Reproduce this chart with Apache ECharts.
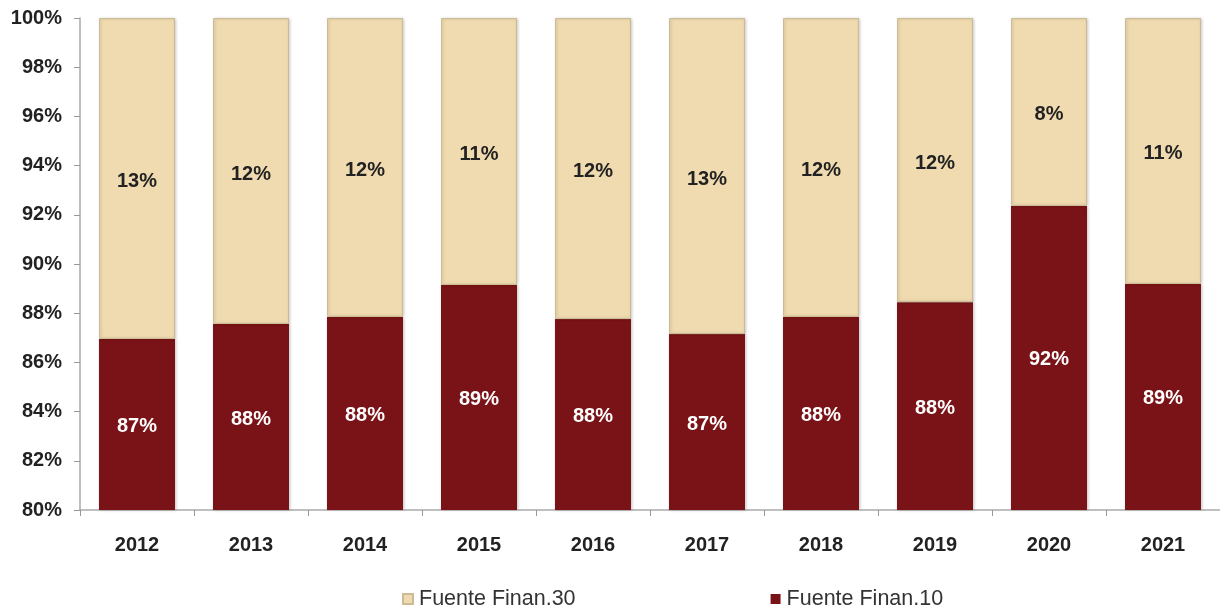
<!DOCTYPE html>
<html>
<head>
<meta charset="utf-8">
<script src="https://cdn.jsdelivr.net/npm/echarts@6/dist/echarts.min.js"></script>
<style>
  html, body { margin: 0; padding: 0; background: #fff; }
  #chart { width: 1220px; height: 610px; }
</style>
</head>
<body>
<div id="chart"></div>
<script>
const years = ['2012','2013','2014','2015','2016','2017','2018','2019','2020','2021']
const fuente10 = [86.95, 87.56, 87.85, 89.15, 87.76, 87.15, 87.85, 88.45, 92.36, 89.19]
const fuente30 = [13.05, 12.44, 12.15, 10.85, 12.24, 12.85, 12.15, 11.55, 7.64, 10.81]
const yTicks = { min: 80, max: 100, step: 2 }

const font = 'Liberation Sans, Arial, sans-serif'
const pct = p => Math.round(p.value) + '%'

const chart = echarts.init(document.getElementById('chart'))
chart.setOption({
  animation: false,
  textStyle: { fontFamily: font },
  grid: { left: 80, width: 1146, top: 18, bottom: 100 },
  legend: {
    top: 583, left: 397, itemGap: 195,
    itemWidth: 10, itemHeight: 10, icon: 'rect',
    textStyle: { fontSize: 21.5, color: '#333', fontFamily: font, padding: [0, 0, 0, 1] },
    data: ['Fuente Finan.30', 'Fuente Finan.10'],
  },
  xAxis: {
    type: 'category', data: years,
    axisLine: { lineStyle: { color: '#aaa', width: 1.5 } },
    axisTick: { show: true, length: 6, lineStyle: { color: '#999' } },
    axisLabel: { fontSize: 20, fontWeight: 'bold', color: '#222', margin: 25 },
  },
  yAxis: {
    type: 'value', min: yTicks.min, max: yTicks.max, interval: yTicks.step,
    axisLine: { show: true, lineStyle: { color: '#aaa', width: 1.5 } },
    axisTick: { show: true, length: 6, lineStyle: { color: '#999' } },
    splitLine: { show: false },
    axisLabel: { formatter: '{value}%', fontSize: 20, fontWeight: 'bold', color: '#222', margin: 18 },
  },
  series: [
    {
      name: 'Fuente Finan.10', type: 'bar', stack: 'total', data: fuente10,
      barWidth: 76,
      itemStyle: { color: '#7a1317', shadowColor: 'rgba(0,0,0,0.25)', shadowBlur: 3, shadowOffsetX: 1 },
      label: { show: true, position: 'inside', offset: [0, 2], formatter: pct, color: '#fff', fontSize: 20, fontWeight: 'bold' },
    },
    {
      name: 'Fuente Finan.30', type: 'bar', stack: 'total', data: fuente30,
      barWidth: 76,
      itemStyle: { color: '#f0dbb0', borderColor: '#cdbb95', borderWidth: 1, shadowColor: 'rgba(0,0,0,0.2)', shadowBlur: 3, shadowOffsetX: 1 },
      label: { show: true, position: 'inside', offset: [0, 3], formatter: pct, color: '#222', fontSize: 20, fontWeight: 'bold' },
    },
  ],
})
</script>
</body>
</html>
